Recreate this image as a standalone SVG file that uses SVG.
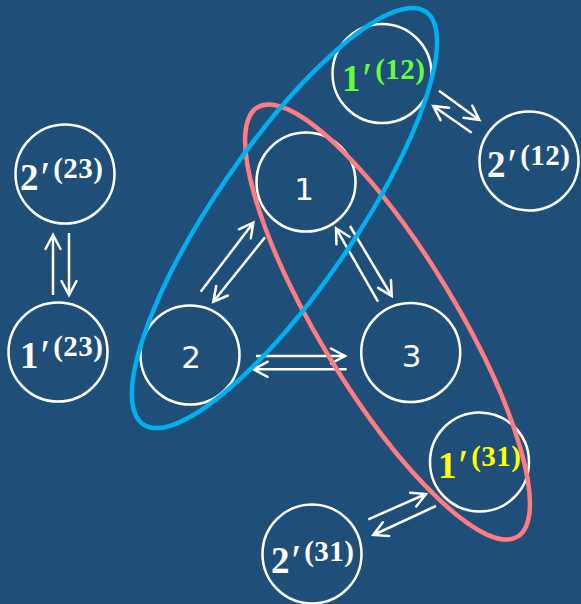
<svg xmlns="http://www.w3.org/2000/svg" width="581" height="604" viewBox="0 0 581 604">
<style>
.node{fill:none;stroke:#fff;stroke-width:2.5}
.num{font-family:"DejaVu Sans",sans-serif;font-size:31px;fill:#fff;text-anchor:middle}
.pl{font-family:"Liberation Serif",serif;font-weight:bold;font-size:37px;fill:#fff}
.pl .pr{font-size:44px;font-weight:normal}
.pl .sup{font-size:29px;letter-spacing:0.5px}
.arr{fill:none;stroke:#fff;stroke-width:2.5;marker-end:url(#ah)}
.ell{fill:none;stroke-width:4.5}
</style>
<defs>
<marker id="ah" markerUnits="userSpaceOnUse" markerWidth="20" markerHeight="20" viewBox="-16 -10 20 20" refX="0" refY="0" orient="auto" overflow="visible">
<path d="M-14,-7.5 L0,0 L-14,7.5" fill="none" stroke="#fff" stroke-width="2.5" stroke-linecap="round" stroke-linejoin="miter"/>
</marker>
</defs>
<rect width="581" height="604" fill="#1F4E79"/>
<g id="connectors">
<path class="arr" d="M200.7,291.7 L253.3,222.7"/>
<path class="arr" d="M265,237.3 L213.3,301.7"/>
<path class="arr" d="M378,301.7 L336,228.3"/>
<path class="arr" d="M350,226 L391.7,296"/>
<path class="arr" d="M256,356 L345,356"/>
<path class="arr" d="M346.7,369.3 L253.5,369.3"/>
<path class="arr" d="M53,295 L53,235"/>
<path class="arr" d="M69,233 L69,295"/>
<path class="arr" d="M439,90.7 L479.3,120"/>
<path class="arr" d="M471.7,132.7 L433.3,106"/>
<path class="arr" d="M368.3,519.3 L426,494"/>
<path class="arr" d="M436,506 L373.3,535"/>
</g>
<g id="n1"><circle class="node" cx="306" cy="182" r="49.5"/><text class="num" x="304" y="200">1</text></g>
<g id="n2"><circle class="node" cx="190" cy="355" r="49.5"/><text class="num" x="191" y="368">2</text></g>
<g id="n3"><circle class="node" cx="410.7" cy="352.5" r="49.5"/><text class="num" x="411.5" y="367">3</text></g>
<g id="n1p12"><circle class="node" cx="382" cy="73.5" r="49.5"/><text class="pl" x="342" y="91" style="fill:#66FF33">1<tspan class="pr" dx="2" dy="2">′</tspan><tspan class="sup" dy="-14" dx="3">(12)</tspan></text></g>
<g id="n2p12"><circle class="node" cx="529" cy="161" r="49.5"/><text class="pl" x="487" y="177">2<tspan class="pr" dx="2" dy="2">′</tspan><tspan class="sup" dy="-14" dx="3">(12)</tspan></text></g>
<g id="n2p23"><circle class="node" cx="65" cy="174" r="49.5"/><text class="pl" x="20" y="190">2<tspan class="pr" dx="2" dy="2">′</tspan><tspan class="sup" dy="-14" dx="3">(23)</tspan></text></g>
<g id="n1p23"><circle class="node" cx="58" cy="352" r="49.5"/><text class="pl" x="20" y="368">1<tspan class="pr" dx="2" dy="2">′</tspan><tspan class="sup" dy="-14" dx="3">(23)</tspan></text></g>
<g id="n1p31"><circle class="node" cx="479.5" cy="462" r="49.5"/><text class="pl" x="438" y="478" style="fill:#FFFF00">1<tspan class="pr" dx="2" dy="2">′</tspan><tspan class="sup" dy="-14" dx="3">(31)</tspan></text></g>
<g id="n2p31"><circle class="node" cx="312" cy="554" r="49.5"/><text class="pl" x="271" y="573">2<tspan class="pr" dx="2" dy="2">′</tspan><tspan class="sup" dy="-14" dx="3">(31)</tspan></text></g>
<g id="groups">
<ellipse class="ell" stroke="#FF7C80" cx="387.5" cy="322" rx="251" ry="68" transform="rotate(58.8 387.5 322)"/>
<ellipse class="ell" stroke="#00B0F0" cx="284.5" cy="218" rx="250" ry="70" transform="rotate(-55.6 284.5 218)"/>
</g>
</svg>
